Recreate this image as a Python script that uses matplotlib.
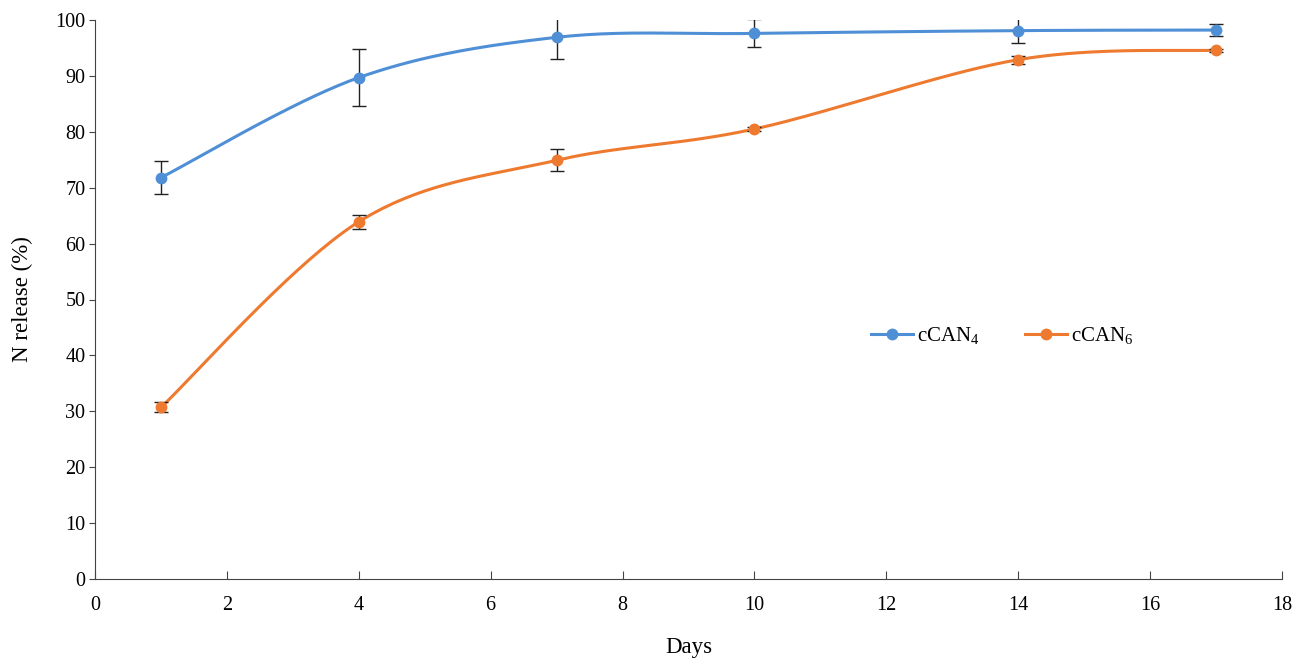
import numpy as np
import matplotlib
matplotlib.use("Agg")
import matplotlib.pyplot as plt

plt.rcParams['font.family'] = ['Liberation Serif', 'DejaVu Serif']
plt.rcParams['mathtext.fontset'] = 'custom'
plt.rcParams['mathtext.rm'] = 'Liberation Serif'

days = [1, 4, 7, 10, 14, 17]
can4 = [71.8, 89.7, 96.9, 97.6, 98.1, 98.2]
can4_err = [2.9, 5.1, 3.9, 2.5, 2.2, 1.1]
can6 = [30.7, 63.9, 74.9, 80.5, 92.9, 94.6]
can6_err = [0.9, 1.3, 2.0, 0.3, 0.7, 0.3]


def smooth(x, y, n=40):
    # excel style smoothed line (catmull-rom bezier)
    x = np.asarray(x, float)
    y = np.asarray(y, float)
    px = np.concatenate([[x[0]], x, [x[-1]]])
    py = np.concatenate([[y[0]], y, [y[-1]]])
    xs, ys = [], []
    t = np.linspace(0, 1, n)
    for i in range(1, len(px) - 2):
        p0 = np.array([px[i], py[i]])
        p3 = np.array([px[i + 1], py[i + 1]])
        p1 = p0 + (np.array([px[i + 1], py[i + 1]]) - np.array([px[i - 1], py[i - 1]])) / 6
        p2 = p3 - (np.array([px[i + 2], py[i + 2]]) - np.array([px[i], py[i]])) / 6
        b = ((1 - t) ** 3)[:, None] * p0 + (3 * (1 - t) ** 2 * t)[:, None] * p1 \
            + (3 * (1 - t) * t ** 2)[:, None] * p2 + (t ** 3)[:, None] * p3
        xs.extend(b[:, 0])
        ys.extend(b[:, 1])
    return xs, ys


fig = plt.figure(figsize=(13.05, 6.6), dpi=100)
ax = fig.add_axes([95 / 1305, 81 / 660, 1187 / 1305, 559 / 660])

blue = "#4F8FD6"
orange = "#EE7A30"

for y, err, c, lab in [(can4, can4_err, blue, r"cCAN$_\mathregular{4}$"),
                       (can6, can6_err, orange, r"cCAN$_\mathregular{6}$")]:
    sx, sy = smooth(days, y)
    ax.plot(sx, sy, color=c, lw=2.2, zorder=2)
    ax.errorbar(days, y, yerr=err, fmt="none", ecolor="#222222", elinewidth=1,
                capsize=5, capthick=1, zorder=3)
    ax.plot(days, y, "o", color=c, ms=7.5, zorder=4)
    ax.plot([], [], "-o", color=c, lw=2.2, ms=7.5, label=lab)

ax.set_xlim(0, 18)
ax.set_ylim(0, 100)
ax.set_xticks(range(0, 19, 2))
ax.set_yticks(range(0, 101, 10))
for s in ["top", "right"]:
    ax.spines[s].set_visible(False)
ax.spines["left"].set_color("#444444")
ax.spines["bottom"].set_color("#444444")
ax.tick_params(axis="y", direction="out", length=4, color="#444444", labelsize=14.5, pad=3)
ax.tick_params(axis="x", direction="in", length=6, color="#444444", labelsize=14.5, pad=12)

ax.set_xlabel("Days", fontsize=16.5, labelpad=16)
ax.set_ylabel("N release (%)", fontsize=16.5, labelpad=16)

ax.legend(loc="center left", bbox_to_anchor=(0.638, 0.435), ncol=2, frameon=False,
          fontsize=15, handlelength=2.0, columnspacing=2.2, handletextpad=0.2)

fig.savefig("out.png", dpi=100)
